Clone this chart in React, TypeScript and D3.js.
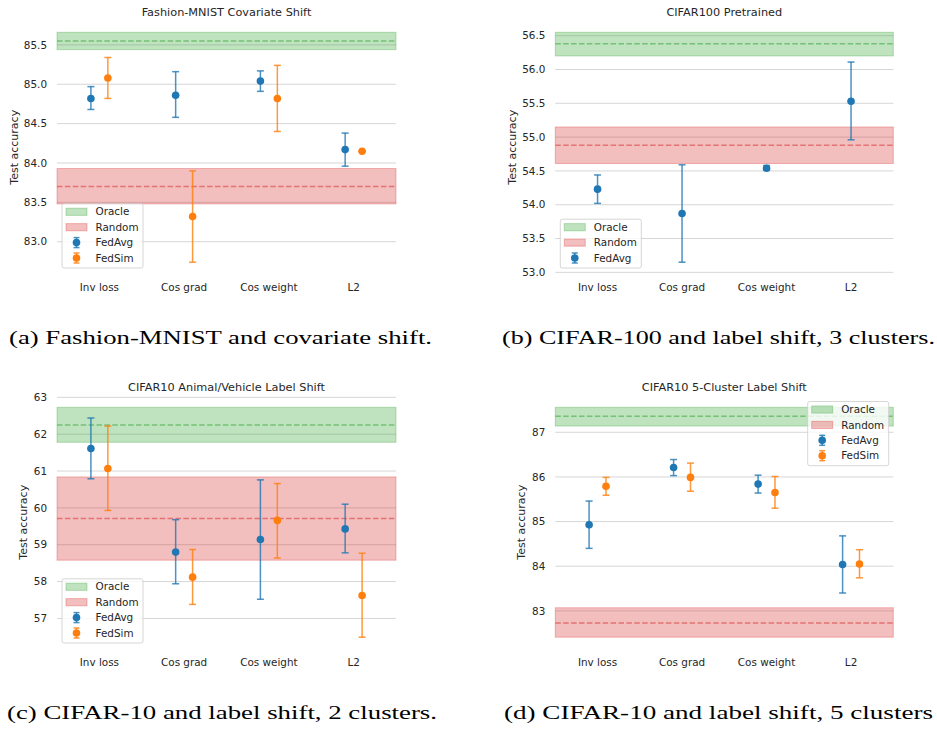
import React from "react";
import * as d3 from "d3";

const categories = ["Inv loss", "Cos grad", "Cos weight", "L2"];

// (a) Fashion-MNIST covariate shift
const fmFedAvgMean = [84.82, 84.86, 85.04, 84.17];
const fmFedAvgLow = [84.68, 84.58, 84.91, 83.96];
const fmFedAvgHigh = [84.97, 85.16, 85.17, 84.38];
const fmFedSimMean = [85.08, 83.32, 84.82, 84.15];
const fmFedSimLow = [84.82, 82.74, 84.4, 84.15];
const fmFedSimHigh = [85.34, 83.9, 85.24, 84.15];
const fmOracle = [85.44, 85.55, 85.66];
const fmRandom = [83.48, 83.7, 83.93];
const fmTicks = [83.0, 83.5, 84.0, 84.5, 85.0, 85.5];

// (b) CIFAR100 pretrained
const c100FedAvgMean = [54.23, 53.87, 54.54, 55.53];
const c100FedAvgLow = [54.02, 53.15, 54.51, 54.96];
const c100FedAvgHigh = [54.44, 54.59, 54.58, 56.11];
const c100Oracle = [56.2, 56.38, 56.55];
const c100Random = [54.61, 54.88, 55.15];
const c100Ticks = [53.0, 53.5, 54.0, 54.5, 55.0, 55.5, 56.0, 56.5];

// (c) CIFAR10 animal/vehicle label shift
const c2FedAvgMean = [61.61, 58.8, 59.14, 59.43];
const c2FedAvgLow = [60.79, 57.94, 57.52, 58.78];
const c2FedAvgHigh = [62.44, 59.68, 60.76, 60.1];
const c2FedSimMean = [61.07, 58.12, 59.66, 57.62];
const c2FedSimLow = [59.93, 57.38, 58.64, 56.49];
const c2FedSimHigh = [62.22, 58.87, 60.66, 58.77];
const c2Oracle = [61.78, 62.25, 62.73];
const c2Random = [58.58, 59.71, 60.84];
const c2Ticks = [57, 58, 59, 60, 61, 62, 63];

// (d) CIFAR10 5-cluster label shift
const c5FedAvgMean = [84.93, 86.21, 85.84, 84.04];
const c5FedAvgLow = [84.4, 86.03, 85.64, 83.4];
const c5FedAvgHigh = [85.46, 86.39, 86.04, 84.68];
const c5FedSimMean = [85.79, 85.99, 85.65, 84.05];
const c5FedSimLow = [85.59, 85.68, 85.3, 83.74];
const c5FedSimHigh = [85.99, 86.31, 86.01, 84.37];
const c5Oracle = [87.14, 87.36, 87.56];
const c5Random = [82.41, 82.73, 83.07];
const c5Ticks = [83, 84, 85, 86, 87];

const titles = [
  "Fashion-MNIST Covariate Shift",
  "CIFAR100 Pretrained",
  "CIFAR10 Animal/Vehicle Label Shift",
  "CIFAR10 5-Cluster Label Shift",
];
const captions = [
  "(a) Fashion-MNIST and covariate shift.",
  "(b) CIFAR-100 and label shift, 3 clusters.",
  "(c) CIFAR-10 and label shift, 2 clusters.",
  "(d) CIFAR-10 and label shift, 5 clusters",
];

type Series = { name: string; color: string; mean: number[]; low: number[]; high: number[] };
type Panel = {
  title: string;
  caption: string;
  series: Series[];
  oracle: number[];
  random: number[];
  ticks: number[];
  fmt: string;
  col: number;
  row: number;
  legend: "ll" | "ur";
  capX: [number, number];
};

const BLUE = "#1f77b4";
const ORANGE = "#ff7f0e";
const GREEN = "#2ca02c";
const RED = "#d62728";
const TXT = "#262626";
const FONT = "'DejaVu Sans', sans-serif";
const TICK_FS = 10.4;
const TITLE_FS = 11.3;
const LABEL_FS = 11;

const panels: Panel[] = [
  {
    title: titles[0], caption: captions[0],
    series: [
      { name: "FedAvg", color: BLUE, mean: fmFedAvgMean, low: fmFedAvgLow, high: fmFedAvgHigh },
      { name: "FedSim", color: ORANGE, mean: fmFedSimMean, low: fmFedSimLow, high: fmFedSimHigh },
    ],
    oracle: fmOracle, random: fmRandom, ticks: fmTicks, fmt: ".1f", col: 0, row: 0, legend: "ll", capX: [9, 432],
  },
  {
    title: titles[1], caption: captions[1],
    series: [{ name: "FedAvg", color: BLUE, mean: c100FedAvgMean, low: c100FedAvgLow, high: c100FedAvgHigh }],
    oracle: c100Oracle, random: c100Random, ticks: c100Ticks, fmt: ".1f", col: 1, row: 0, legend: "ll", capX: [502, 935],
  },
  {
    title: titles[2], caption: captions[2],
    series: [
      { name: "FedAvg", color: BLUE, mean: c2FedAvgMean, low: c2FedAvgLow, high: c2FedAvgHigh },
      { name: "FedSim", color: ORANGE, mean: c2FedSimMean, low: c2FedSimLow, high: c2FedSimHigh },
    ],
    oracle: c2Oracle, random: c2Random, ticks: c2Ticks, fmt: "d", col: 0, row: 1, legend: "ll", capX: [7, 437],
  },
  {
    title: titles[3], caption: captions[3],
    series: [
      { name: "FedAvg", color: BLUE, mean: c5FedAvgMean, low: c5FedAvgLow, high: c5FedAvgHigh },
      { name: "FedSim", color: ORANGE, mean: c5FedSimMean, low: c5FedSimLow, high: c5FedSimHigh },
    ],
    oracle: c5Oracle, random: c5Random, ticks: c5Ticks, fmt: "d", col: 1, row: 1, legend: "ur", capX: [504, 933],
  },
];

const COL_X: [number, number][] = [[57, 396], [555.3, 893.3]];
const ROW_DY = 375;
const AX_TOP = 20.8;
const AX_BOT = 273.7;

function textWidth(s: string) {
  let w = 0;
  for (const ch of s) w += ch === "." ? 3.18 : 6.36;
  return w;
}

function PanelView({ p }: { p: Panel }) {
  const [x0, x1] = COL_X[p.col];
  const top = AX_TOP + p.row * ROW_DY;
  const bot = AX_BOT + p.row * ROW_DY;
  const vals: number[] = [...p.oracle, ...p.random];
  p.series.forEach((s) => vals.push(...s.low, ...s.high, ...s.mean));
  const [lo, hi] = d3.extent(vals) as [number, number];
  const pad = (hi - lo) * 0.05;
  const y = d3.scaleLinear().domain([lo - pad, hi + pad]).range([bot, top]);
  const x = d3.scaleLinear().domain([-0.5, categories.length - 0.5]).range([x0, x1]);
  const fmt = d3.format(p.fmt);
  const nS = p.series.length;
  const dodge = nS > 1 ? 0.1 : 0;
  const tickRight = x0 - 10;
  const maxW = d3.max(p.ticks, (t) => textWidth(fmt(t))) as number;
  const yLabelX = tickRight - maxW - 11;
  const midY = (top + bot) / 2;

  const band = (b: number[], color: string, key: string) => (
    <g key={key}>
      <rect x={x0} width={x1 - x0} y={y(b[2])} height={y(b[0]) - y(b[2])}
        fill={color} fillOpacity={0.3} stroke={color} strokeOpacity={0.3} strokeWidth={1} />
      <line x1={x0} x2={x1} y1={y(b[1])} y2={y(b[1])} stroke={color} strokeOpacity={0.5}
        strokeWidth={1.5} strokeDasharray="5.5,2.4" />
    </g>
  );

  const items: { label: string; kind: "band" | "pt"; color: string }[] = [
    { label: "Oracle", kind: "band", color: GREEN },
    { label: "Random", kind: "band", color: RED },
    ...p.series.map((s) => ({ label: s.name, kind: "pt" as const, color: s.color })),
  ];
  const legW = 81;
  const legH = 8 + (items.length - 1) * 15.4 + 10;
  const legX = p.legend === "ll" ? x0 + 5 : x1 - 4.6 - legW;
  const legY = p.legend === "ll" ? bot - 5.7 - legH : top + 5.7;

  return (
    <g>
      <text x={(x0 + x1) / 2} y={top - 4.8} textAnchor="middle" fontSize={TITLE_FS} fill={TXT} fontFamily={FONT}>
        {p.title}
      </text>
      {p.ticks.map((t) => (
        <g key={t}>
          <line x1={x0} x2={x1} y1={y(t)} y2={y(t)} stroke="#d6d6d6" strokeWidth={1} />
          <text x={tickRight} y={y(t)} dy="0.35em" textAnchor="end" fontSize={TICK_FS} fill={TXT} fontFamily={FONT}>
            {fmt(t)}
          </text>
        </g>
      ))}
      {band(p.oracle, GREEN, "o")}
      {band(p.random, RED, "r")}
      {categories.map((c, i) => (
        <text key={c} x={x(i)} y={bot + 17} textAnchor="middle" fontSize={TICK_FS} fill={TXT} fontFamily={FONT}>
          {c}
        </text>
      ))}
      <text transform={`translate(${yLabelX},${midY}) rotate(-90)`} textAnchor="middle" dy="0.35em"
        fontSize={LABEL_FS} fill={TXT} fontFamily={FONT}>
        Test accuracy
      </text>
      {p.series.map((s, si) => {
        const off = nS > 1 ? (si === 0 ? -dodge : dodge) : 0;
        return (
          <g key={s.name}>
            {s.mean.map((m, i) => {
              const cx = x(i + off);
              return (
                <g key={i}>
                  <g stroke={s.color} strokeOpacity={0.8} strokeWidth={1.5}>
                    <line x1={cx} x2={cx} y1={y(s.low[i])} y2={y(s.high[i])} />
                    <line x1={cx - 3.5} x2={cx + 3.5} y1={y(s.low[i])} y2={y(s.low[i])} />
                    <line x1={cx - 3.5} x2={cx + 3.5} y1={y(s.high[i])} y2={y(s.high[i])} />
                  </g>
                  <circle cx={cx} cy={y(m)} r={3.8} fill={s.color} />
                </g>
              );
            })}
          </g>
        );
      })}
      <g>
        <rect x={legX} y={legY} width={legW} height={legH} rx={2} fill="#ffffff" fillOpacity={0.8}
          stroke="#cccccc" strokeWidth={0.8} />
        {items.map((it, k) => {
          const cy = legY + 8 + k * 15.4;
          const gx = legX + 4;
          return (
            <g key={it.label}>
              {it.kind === "band" ? (
                <rect x={gx} y={cy - 3.6} width={21} height={7.2} fill={it.color} fillOpacity={0.3}
                  stroke={it.color} strokeOpacity={0.3} strokeWidth={1} />
              ) : (
                <g>
                  <g stroke={it.color} strokeOpacity={0.8} strokeWidth={1.5}>
                    <line x1={gx + 10.5} x2={gx + 10.5} y1={cy - 5} y2={cy + 5} />
                    <line x1={gx + 7.5} x2={gx + 13.5} y1={cy - 5} y2={cy - 5} />
                    <line x1={gx + 7.5} x2={gx + 13.5} y1={cy + 5} y2={cy + 5} />
                  </g>
                  <circle cx={gx + 10.5} cy={cy} r={3.8} fill={it.color} />
                </g>
              )}
              <text x={legX + 33.5} y={cy} dy="0.35em" fontSize={TICK_FS} fill={TXT} fontFamily={FONT}>
                {it.label}
              </text>
            </g>
          );
        })}
      </g>
      <text x={p.capX[0]} y={344 + p.row * ROW_DY} fontSize={18} fill="#000"
        fontFamily="'Liberation Serif', 'DejaVu Serif', serif"
        textLength={p.capX[1] - p.capX[0]} lengthAdjust="spacingAndGlyphs">
        {p.caption}
      </text>
    </g>
  );
}

export default function App() {
  return (
    <svg width={937} height={729} style={{ position: "absolute", left: 0, top: 0, background: "#fff" }}>
      <rect width={937} height={729} fill="#fff" />
      {panels.map((p, i) => (
        <PanelView key={i} p={p} />
      ))}
    </svg>
  );
}
